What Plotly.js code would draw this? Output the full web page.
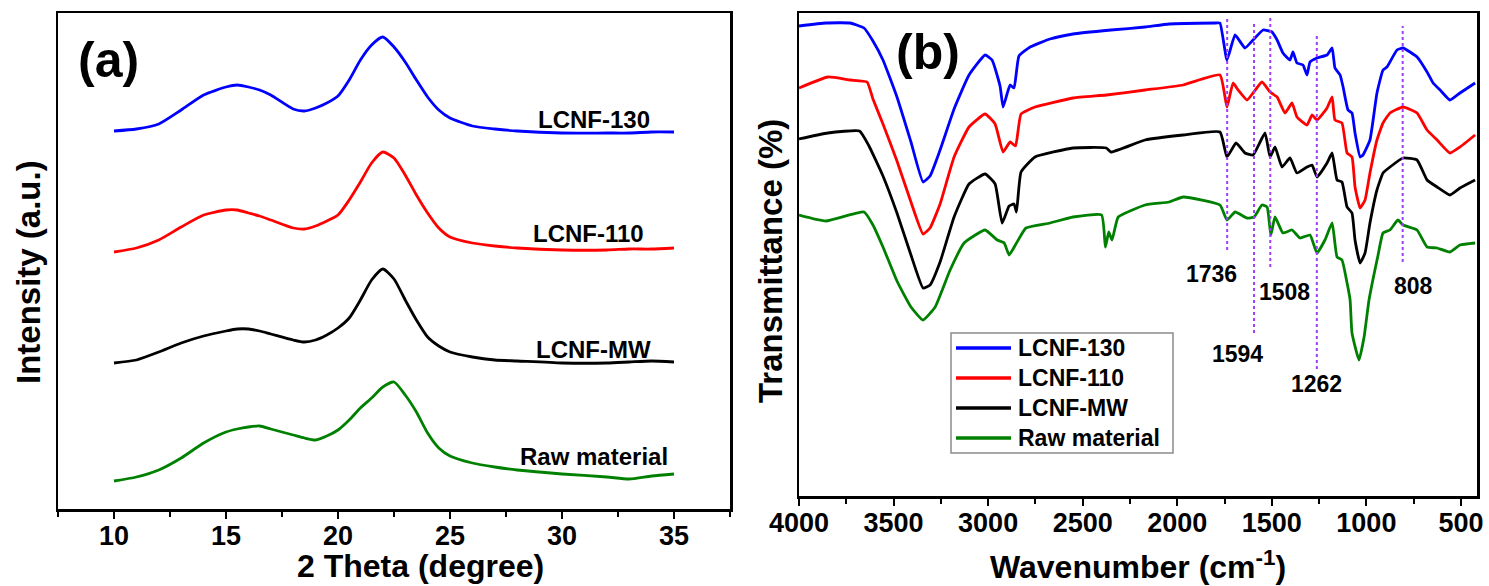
<!DOCTYPE html>
<html>
<head>
<meta charset="utf-8">
<script src="https://cdn.plot.ly/plotly-3.0.1.min.js"></script>
<style>html,body{margin:0;padding:0;background:#fff;}#chart{width:1489px;height:586px;}</style>
</head>
<body>
<div id="chart"></div>
<script>
// ---------- (a) XRD data ----------
const theta = [10,11,12,13,14,15,15.5,16,16.5,17,18,18.5,19,19.5,20,20.5,21,21.5,22,22.5,23,23.5,24,24.5,25,26,27,28,30,32,33,34,35];
const xrd130 = [378,380,385,399,414,422,424,422,419,414,400,398,401,406,413,429,449,464,472,462,447,429,412,399,391,383,380,378,376,376,376,377,377];
const xrd110 = [257,261,269,282,294,299,299,296,293,289,281,280,283,288,294,309,327,346,357,351,334,314,296,281,272,266,263,261,259,259,260,260,261];
const xrdMW  = [146,149,157,166,173,178,180,180,178,175,169,167,169,174,181,191,209,229,240,230,209,189,172,163,157,152,149,148,146,146,147,148,147];
const xrdRaw = [28,32,39,51,66,77,80,82,83,80,74,71,69,73,79,89,101,111,122,127,114,97,76,61,53,46,42,39,35,32,30,33,35];
const xrdLabels = ["LCNF-130","LCNF-110","LCNF-MW","Raw material"];

// ---------- (b) FTIR data ----------
const wn130 = [4000,3857,3730,3656,3609,3556,3482,3408,3344,3307,3254,3180,3101,3016,2979,2937,2921,2900,2884,2863,2837,2778,2673,2551,2350,2170,2043,1795,1774,1737,1694,1642,1599,1546,1499,1472,1441,1404,1388,1367,1335,1314,1298,1261,1208,1181,1166,1139,1123,1097,1076,1060,1033,1018,981,944,912,891,838,806,732,679,647,610,558,505,425];
const tr130 = [470,473,473,468,455,436,399,354,314,320,346,387,421,441,436,410,389,402,411,408,440,449,457,462,466,469,472,473,473,436,461,448,456,466,464,456,443,436,444,433,431,421,434,438,441,448,428,421,409,386,383,363,339,341,356,403,426,429,446,448,439,424,413,406,396,403,413];
const wn110 = [4000,3847,3730,3640,3609,3556,3482,3408,3344,3307,3254,3180,3101,3016,2963,2921,2884,2855,2826,2752,2551,2375,2170,1969,1774,1737,1705,1678,1631,1599,1552,1509,1472,1430,1393,1367,1314,1287,1261,1208,1181,1166,1129,1102,1076,1060,1033,1007,981,944,912,875,806,732,679,626,558,505,425];
const tr110 = [408,419,416,414,397,372,335,294,262,268,292,339,369,382,372,344,354,350,382,389,398,401,406,411,421,389,413,406,396,403,414,404,399,383,393,379,371,381,376,388,399,376,373,343,339,309,288,296,323,356,373,383,389,383,366,356,343,349,361];
const wnMW = [4000,3847,3680,3630,3556,3482,3408,3344,3307,3254,3180,3101,3016,2963,2926,2889,2863,2850,2826,2752,2551,2375,2350,2170,1969,1774,1737,1689,1642,1599,1536,1509,1483,1446,1404,1367,1314,1287,1261,1208,1181,1155,1129,1102,1076,1060,1033,1007,981,944,912,875,806,732,679,626,558,505,425];
const trMW = [357,363,365,350,320,283,241,208,211,234,279,312,322,312,273,290,292,284,324,339,348,348,344,356,361,364,339,353,343,341,363,339,349,329,338,323,329,331,319,333,343,316,314,289,283,256,233,243,273,306,323,329,338,336,316,309,301,308,316];
const wnRaw = [4000,3857,3656,3609,3556,3482,3408,3344,3280,3201,3127,3016,2952,2915,2889,2850,2800,2673,2551,2400,2380,2362,2345,2312,2170,2043,1968,1774,1737,1694,1631,1594,1552,1525,1505,1483,1441,1393,1351,1298,1261,1219,1181,1155,1129,1102,1086,1076,1039,1012,986,938,912,875,833,806,732,679,626,558,505,425];
const trRaw = [281,275,284,271,249,215,189,176,189,226,253,266,256,253,241,253,268,273,279,281,249,264,256,279,291,294,299,291,276,284,278,279,291,289,261,279,263,266,258,261,243,256,273,239,236,213,196,163,136,159,196,241,263,266,276,271,266,249,248,244,251,253];
const seriesNames = ["LCNF-130","LCNF-110","LCNF-MW","Raw material"];
const peakWn = [1736,1594,1508,1262,808];
const peakTop = [478,475,479,463,470];
const peakBottom = [246,163,229,127,234];
const peakLabels = ["1736","1594","1508","1262","808"];

// ---------- styling ----------
const W = 1489, H = 586;
const X = p => p / W;
const Y = p => 1 - p / H;
const colors = ["rgb(0,0,255)","rgb(255,0,0)","rgb(0,0,0)","rgb(0,128,0)"];
const FONT = "Liberation Sans, Arial, Helvetica, sans-serif";

const xrdSets = [xrd130, xrd110, xrdMW, xrdRaw];
const ftirSets = [[wn130,tr130],[wn110,tr110],[wnMW,trMW],[wnRaw,trRaw]];

const traces = [];
xrdSets.forEach((ys, i) => {
  traces.push({x: theta, y: ys, xaxis: "x", yaxis: "y", type: "scatter", mode: "lines", name: xrdLabels[i],
    line: {color: colors[i], width: 2.8, shape: "spline", smoothing: 0.6}, showlegend: false, hoverinfo: "skip"});
});
ftirSets.forEach((s, i) => {
  traces.push({x: s[0], y: s[1], xaxis: "x2", yaxis: "y2", type: "scatter", mode: "lines", showlegend: false,
    name: seriesNames[i], line: {color: colors[i], width: 2.8, shape: "spline", smoothing: 0.4}, hoverinfo: "skip"});
});

const tickFont = {family: FONT, size: 27, color: "#000", weight: "bold"};
const axBase = {showline: true, linecolor: "#000", linewidth: 2.5, mirror: true, showgrid: false, zeroline: false,
  ticks: "outside", ticklen: 7, tickwidth: 2, tickcolor: "#000", tickfont: tickFont, automargin: false, ticklabelstandoff: -6};

const shapes = peakWn.map((w, i) => ({type: "line", xref: "x2", yref: "y2", x0: w, x1: w, y0: peakBottom[i], y1: peakTop[i],
  line: {color: "rgb(160,60,255)", width: 2, dash: "dot"}}));

const annotations = [];
function ann(text, px, py, size, extra) {
  annotations.push(Object.assign({text: "<b>" + text + "</b>", xref: "paper", yref: "paper", x: X(px), y: Y(py),
    xanchor: "center", yanchor: "middle", showarrow: false, font: {family: FONT, size: size, color: "#000"}}, extra || {}));
}
ann("(a)", 108, 60, 50);
ann("(b)", 928, 52, 50);
const xrdLabelPos = [[594,120],[588,234],[593,349],[594,456]];
xrdLabels.forEach((t, i) => ann(t, xrdLabelPos[i][0], xrdLabelPos[i][1], 24));
const peakLabelPos = [[1211,274],[1237,354],[1284,292],[1316,384],[1413,286]];
peakLabels.forEach((t, i) => ann(t, peakLabelPos[i][0], peakLabelPos[i][1], 23));
ann("2 Theta (degree)", 420, 566, 32);
ann("Wavenumber (cm<sup>-1</sup>)", 1138, 565, 32);
ann("Intensity (a.u.)", 28, 272, 33, {textangle: -90});
ann("Transmittance (%)", 770, 261, 33, {textangle: -90});

// legend box (key lines + names), drawn in paper space
const legendRows = [348, 378, 408, 438];
shapes.push({type: "rect", xref: "paper", yref: "paper", x0: X(951), x1: X(1173), y0: Y(453), y1: Y(333),
  line: {color: "#8c8c8c", width: 1.5}, fillcolor: "#fff", layer: "above"});
seriesNames.forEach((n, i) => {
  shapes.push({type: "line", xref: "paper", yref: "paper", x0: X(956), x1: X(1011), y0: Y(legendRows[i]), y1: Y(legendRows[i]),
    line: {color: colors[i], width: 3.5}});
  annotations.push({text: "<b>" + n + "</b>", xref: "paper", yref: "paper", x: X(1016), y: Y(legendRows[i]),
    xanchor: "left", yanchor: "middle", showarrow: false, font: {family: FONT, size: 23, color: "#000"}});
});

const layout = {
  width: W, height: H, margin: {l: 0, r: 0, t: 0, b: 0}, paper_bgcolor: "#fff", plot_bgcolor: "#fff",
  font: {family: FONT, color: "#000"},
  xaxis: Object.assign({}, axBase, {domain: [X(58), X(730)], range: [7.5, 37.5], tickmode: "linear", tick0: 10, dtick: 5,
    minor: {dtick: 2.5, tick0: 7.5, ticks: "outside", ticklen: 5, tickwidth: 2, tickcolor: "#000"}, anchor: "y"}),
  yaxis: Object.assign({}, axBase, {domain: [Y(509), Y(13)], range: [0, 496], ticks: "", showticklabels: false, anchor: "x"}),
  xaxis2: Object.assign({}, axBase, {domain: [X(799), X(1477)], range: [4000, 415], tickmode: "linear", tick0: 500, dtick: 500,
    minor: {dtick: 250, tick0: 250, ticks: "outside", ticklen: 5, tickwidth: 2, tickcolor: "#000"}, anchor: "y2"}),
  yaxis2: Object.assign({}, axBase, {domain: [Y(496), Y(13)], range: [0, 483], ticks: "", showticklabels: false, anchor: "x2"}),
  showlegend: false,
  shapes: shapes,
  annotations: annotations
};

Plotly.newPlot("chart", traces, layout, {staticPlot: true, displayModeBar: false});
</script>
</body>
</html>
